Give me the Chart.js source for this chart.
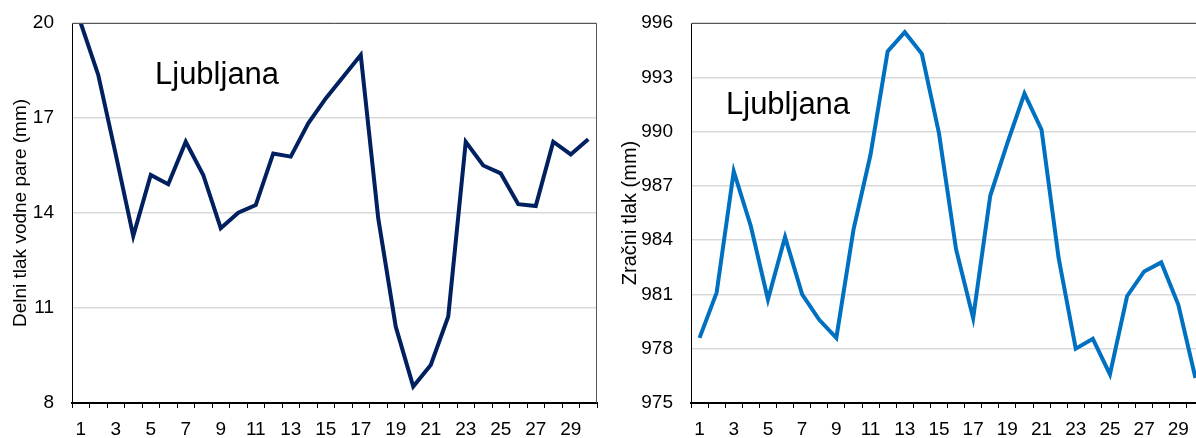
<!DOCTYPE html>
<html>
<head>
<meta charset="utf-8">
<script src="https://cdn.jsdelivr.net/npm/chart.js@4"></script>
<style>
  html, body { margin: 0; padding: 0; background: #fff; overflow: hidden; }
  #wrap { position: relative; width: 1196px; height: 438px; overflow: hidden; }
  .box { position: absolute; top: 0; }
</style>
</head>
<body>
<div id="wrap">
  <div class="box" style="left:0px"><canvas id="vapour-chart" width="600" height="438"></canvas></div>
  <div class="box" style="left:600px"><canvas id="pressure-chart" width="606" height="438"></canvas></div>
</div>
<script>
// days of the month
var days = ['1','2','3','4','5','6','7','8','9','10','11','12','13','14','15',
            '16','17','18','19','20','21','22','23','24','25','26','27','28','29','30'];

// partial pressure of water vapour (mm), Ljubljana
var vapourValues = [20.0, 18.36, 15.85, 13.27, 15.2, 14.91, 16.25, 15.2, 13.52, 14.01,
                    14.25, 15.88, 15.78, 16.83, 17.62, 18.3, 18.99, 13.83, 10.41, 8.52,
                    9.2, 10.73, 16.25, 15.5, 15.25, 14.28, 14.22, 16.25, 15.85, 16.33];

// air pressure (mm), Ljubljana
var pressureValues = [978.6, 981.1, 987.8, 984.77, 980.72, 984.17, 981.0, 979.6, 978.6, 984.57,
                      988.73, 994.43, 995.49, 994.3, 989.91, 983.5, 979.7, 986.45, 989.36, 992.1,
                      990.1, 983.0, 978.0, 978.55, 976.58, 980.9, 982.27, 982.77, 980.43, 976.38];

var vapourTicks = { min: 8, max: 20, step: 3 };
var pressureTicks = { min: 975, max: 996, step: 3 };

var FONT = "'Liberation Sans', Arial, sans-serif";

// plot frame (top + right) and the station name inside the plot
function framePlugin(label, dx, dy) {
  return {
    id: 'frame',
    afterDraw: function(chart) {
      var a = chart.chartArea, ctx = chart.ctx;
      ctx.save();
      ctx.strokeStyle = '#555';
      ctx.lineWidth = 1;
      ctx.beginPath();
      ctx.moveTo(a.left, a.top + 0.5);
      ctx.lineTo(a.right - 0.5, a.top + 0.5);
      ctx.lineTo(a.right - 0.5, a.bottom);
      ctx.stroke();
      ctx.fillStyle = '#000';
      ctx.font = '31px ' + FONT;
      ctx.textBaseline = 'alphabetic';
      ctx.fillText(label, a.left + dx, a.top + dy);
      ctx.restore();
    }
  };
}

function makeChart(id, values, color, range, title, titleSize, yWidth, titlePad, labelPos) {
  return new Chart(document.getElementById(id).getContext('2d'), {
    type: 'line',
    data: {
      labels: days,
      datasets: [{
        data: values,
        borderColor: color,
        borderWidth: 4,
        pointRadius: 0,
        tension: 0,
        fill: false
      }]
    },
    options: {
      responsive: false,
      devicePixelRatio: 1,
      animation: false,
      layout: { padding: { top: 23, right: id === 'vapour-chart' ? 3 : 2, bottom: 0, left: 0 } },
      plugins: { legend: { display: false }, tooltip: { enabled: false } },
      scales: {
        x: {
          offset: true,
          afterFit: function(s) { s.height = 35; },
          grid: { offset: true, drawOnChartArea: false, drawTicks: true, tickLength: 5, color: '#000' },
          border: { color: '#000', width: 2 },
          ticks: {
            autoSkip: false, maxRotation: 0, padding: 10,
            color: '#000', font: { family: FONT, size: 19 },
            callback: function(v, i) { return i % 2 === 0 ? days[i] : ''; }
          }
        },
        y: {
          min: range.min, max: range.max,
          afterFit: function(s) { s.width = yWidth; s.paddingTop = 0; s.paddingBottom = 0; },
          grid: { color: '#d9d9d9', lineWidth: 1.5, drawTicks: false },
          border: { color: '#000', width: 1 },
          ticks: { stepSize: range.step, padding: 18, color: '#000', font: { family: FONT, size: 19 } },
          title: {
            display: true, text: title, color: '#000',
            font: { family: FONT, size: titleSize },
            padding: { top: titlePad, bottom: 0 }
          }
        }
      }
    },
    plugins: [framePlugin('Ljubljana', labelPos[0], labelPos[1])]
  });
}

var vapourChart = makeChart('vapour-chart', vapourValues, '#002060', vapourTicks,
  'Delni tlak vodne pare (mm)', 19, 72, 9, [83, 61]);

var pressureChart = makeChart('pressure-chart', pressureValues, '#0070c0', pressureTicks,
  'Zračni tlak (mm)', 20, 91, 18, [35, 91]);
</script>
</body>
</html>
